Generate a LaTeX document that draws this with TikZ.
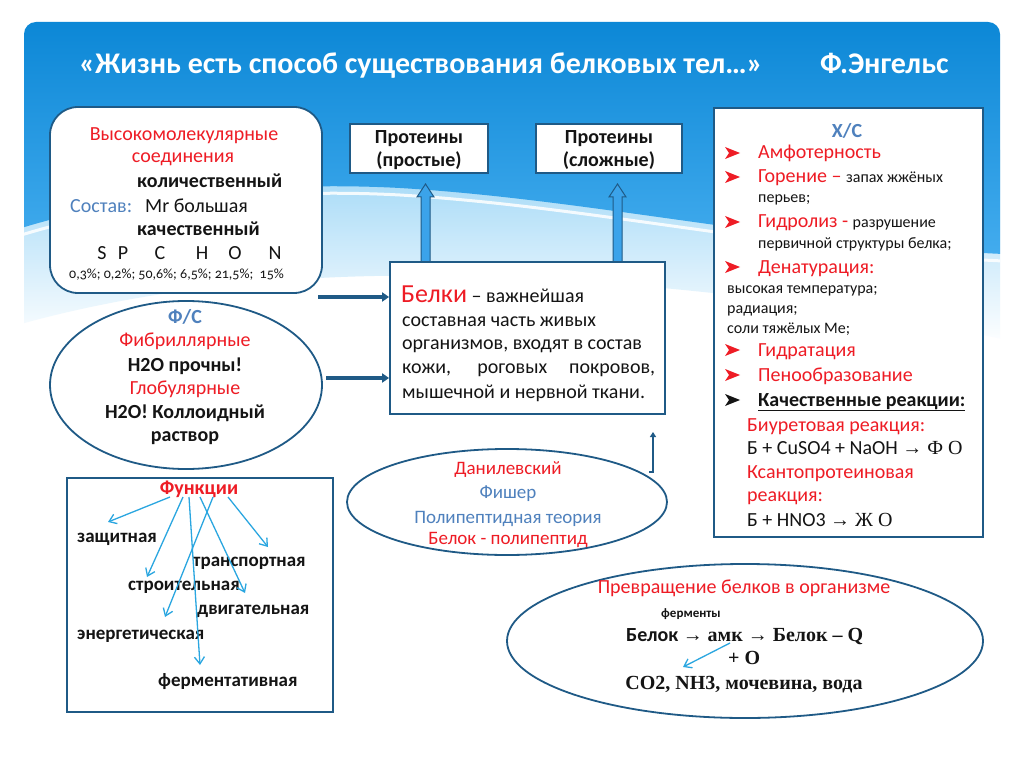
\documentclass[tikz,border=0pt]{standalone}
\usepackage{fontspec}
\setmainfont{Carlito}
\newfontfamily\oldnum{Carlito}[Numbers=OldStyle]
\newfontfamily\tms{Liberation Serif}
\usetikzlibrary{arrows.meta,shapes.geometric}
\definecolor{bord}{HTML}{1F5A86}
\definecolor{myred}{HTML}{EE1C25}
\definecolor{myblue}{HTML}{4F81BD}
\definecolor{lblue}{HTML}{2AA6E0}
\definecolor{txt}{HTML}{141414}
\definecolor{sky1}{HTML}{0784D4}
\definecolor{sky2}{HTML}{43ACEE}
\definecolor{skyl}{HTML}{9AD5F6}
\definecolor{harr}{HTML}{3BA3EA}
\newcommand\fsz[1]{\fontsize{#1}{#1}\selectfont}
\newcommand\bul[3]{\fill[#3] (#1,#2) ++(0,-6) -- ++(15,6) -- ++(-15,6) -- ++(4,-6) -- cycle;}
\begin{document}
\begin{tikzpicture}[x=1pt,y=-1pt,
  tx/.style={inner sep=0pt, anchor=base, text=txt, font=\fsz{20}},
  txl/.style={inner sep=0pt, anchor=base west, text=txt, font=\fsz{20}},
  boxst/.style={draw=bord, line width=1.8pt, fill=white},
  darr/.style={draw=bord, line width=3.2pt, -{Triangle[length=7pt,width=9pt]}},
  farr/.style={draw=lblue, line width=1.3pt, -{Straight Barb[length=7pt,width=10pt]}},
  harrow/.style={fill=harr, draw=bord, line width=1pt},
]
\useasboundingbox (0,0) rectangle (1024,767);
\fill[white] (0,0) rectangle (1024,767);
% ---- sky background ----
\begin{scope}
\clip[rounded corners=12] (24,22) rectangle (1000,800);
\shade[top color=skyl, bottom color=white] (0,150) -- (1030,150) -- (1030,345) .. controls (850,305) and (650,280) .. (450,276) .. controls (250,272) and (100,300) .. (0,330) -- cycle;
\shade[top color=sky1, bottom color=sky2] (0,0) -- (1030,0) -- (1030,255) .. controls (800,248) and (600,200) .. (400,188) .. controls (250,180) and (100,200) .. (0,235) -- cycle;
\draw[white, line width=3pt, opacity=.85] (0,242) .. controls (100,207) and (250,187) .. (400,195) .. controls (600,207) and (800,255) .. (1030,262);
\end{scope}
% ---- title ----
\node[tx, anchor=base west, text=white, font=\fsz{30}\bfseries] (title) at (79,74) {«Жизнь есть способ существования белковых тел…»};
\node[tx, anchor=base west, text=white, font=\fsz{30}\bfseries] (author) at (820,74) {Ф.Энгельс};
% ---- hollow arrows ----
\path[harrow] (421,300) -- (421,197) -- (417,197) -- (425.5,184) -- (434,197) -- (430,197) -- (430,300) -- cycle;
\path[harrow] (613,300) -- (613,197) -- (609,197) -- (617.5,184) -- (626,197) -- (622,197) -- (622,300) -- cycle;
% ---- proteins ----
\node[boxst, minimum width=138pt, minimum height=49pt] (p1) at (419,148.5) {};
\node[tx, font=\fsz{20}\bfseries] at (419,144) {Протеины};
\node[tx, font=\fsz{20}\bfseries] at (419,167) {(простые)};
\node[boxst, minimum width=146pt, minimum height=49pt] (p2) at (609,148.5) {};
\node[tx, font=\fsz{20}\bfseries] at (609,144) {Протеины};
\node[tx, font=\fsz{20}\bfseries] at (609,167) {(сложные)};
% ---- top-left box ----
\node[boxst, rounded corners=28pt, minimum width=272pt, minimum height=186pt] (hmc) at (186,200) {};
\node[tx, text=myred] at (184,141) {Высокомолекулярные};
\node[tx, text=myred] at (183,163) {соединения};
\node[txl, font=\fsz{20}\bfseries] at (137,188) {количественный};
\node[txl, text=myblue] at (70,213) {Состав:};
\node[txl] at (145,213) {Mr большая};
\node[txl, font=\fsz{20}\bfseries] at (137,236) {качественный};
\node[tx] at (102,259) {S};
\node[tx] at (123,259) {P};
\node[tx] at (160,259) {C};
\node[tx] at (202,259) {H};
\node[tx] at (235,259) {O};
\node[tx] at (275,259) {N};
\node[txl, font=\oldnum\fsz{14}] at (69,278) {0,3\%; 0,2\%; 50,6\%; 6,5\%; 21,5\%;\ \ 15\%};
% ---- F/C ellipse ----
\node[boxst, ellipse, minimum width=272pt, minimum height=168pt] (fc) at (186,385) {};
\node[tx, text=myblue, font=\fsz{20}\bfseries] at (185,323) {Ф/С};
\node[tx, text=myred] at (185,346) {Фибриллярные};
\node[tx, font=\fsz{20}\bfseries] at (185,371) {H2O прочны!};
\node[tx, text=myred] at (185,394) {Глобулярные};
\node[tx, font=\fsz{20}\bfseries] at (185,418) {H2O! Коллоидный};
\node[tx, font=\fsz{20}\bfseries] at (185,441) {раствор};
% ---- Belki box ----
\node[boxst, minimum width=275pt, minimum height=152pt] (belki) at (527.5,338) {};
\node[txl] at (401,302) {{\color{myred}\fsz{26}Белки} – важнейшая};
\node[txl] at (402,326) {составная часть живых};
\node[txl] at (402,349) {организмов, входят в состав};
\node[txl] at (402,373) {\makebox[253pt][s]{кожи, роговых покровов,}};
\node[txl] at (402,398) {мышечной и нервной ткани.};
\coordinate (a1) at (318,297);
\coordinate (a2) at (326,378);
\draw[darr] (a1) -- (a1 -| belki.west);
\draw[darr] (a2) -- (a2 -| belki.west);
% ---- functions ----
\node[boxst, minimum width=266pt, minimum height=234pt] (fn) at (200,595) {};
\node[tx, text=myred, font=\fsz{20}\bfseries] (fk) at (199,494) {Функции};
\node[txl, font=\fsz{19}\bfseries] (f1) at (77,542) {защитная};
\node[txl, font=\fsz{19}\bfseries] (f2) at (193,566) {транспортная};
\node[txl, font=\fsz{19}\bfseries] (f3) at (128,590) {строительная};
\node[txl, font=\fsz{19}\bfseries] (f4) at (197,614) {двигательная};
\node[txl, font=\fsz{19}\bfseries] (f5) at (77,639) {энергетическая};
\node[txl, font=\fsz{19}\bfseries] (f6) at (158,686) {ферментативная};
\coordinate (s1) at (170,497); \coordinate (e1) at (108,522);
\coordinate (s2) at (183,497); \coordinate (e2) at (147,577);
\coordinate (s3) at (189,497); \coordinate (e3) at (200,665);
\coordinate (s4) at (200,497); \coordinate (e4) at (245,593);
\coordinate (s5) at (213,497); \coordinate (e5) at (165,617);
\coordinate (s6) at (228,497); \coordinate (e6) at (268,547);
\foreach \i in {1,...,6} {\draw[farr] (s\i) -- (e\i);}
% ---- transformation ellipse ----
\node[boxst, ellipse, minimum width=476pt, minimum height=154pt] (tr) at (745,641) {};
\node[tx, text=myred] at (744,593) {Превращение белков в организме};
\node[txl, font=\fsz{13}\bfseries] at (661,617) {ферменты};
\node[txl] (eq) at (626,641) {\bfseries Белок {\tms → амк → Белок – Q}};
\node[txl, font=\tms\fsz{20}\bfseries] at (728,664) {+ O};
\node[tx, font=\tms\fsz{20}\bfseries] at (744,689) {CO2, NH3, мочевина, вода};
\coordinate (t1) at (730,643); \coordinate (t2) at (683,667);
\draw[farr] (t1) -- (t2);
% ---- Danilevsky ellipse ----
\node[draw=bord, line width=1.8pt, ellipse, minimum width=320pt, minimum height=106pt] (dan) at (507,502) {};
\node[tx, text=myred, font=\fsz{19}] at (508,474) {Данилевский};
\node[tx, text=myblue, font=\fsz{19}] at (508,498) {Фишер};
\node[tx, text=myblue, font=\fsz{19}] at (508,523) {Полипептидная теория};
\node[tx, text=myred, font=\fsz{19}] at (508,544) {Белок - полипептид};
\coordinate (hk) at (649,472);
\draw[bord, line width=2.5pt, -{Triangle[length=5pt,width=6pt]}] (hk) -- ++(4,0) -- ++(0,-40);
% ---- X/C box ----
\node[boxst, minimum width=269pt, minimum height=429pt] (xc) at (848.5,322.5) {};
\node[tx, text=myblue, font=\fsz{20}\bfseries] at (847,138) {Х/С};
\bul{725}{153}{myred}
\node[txl, text=myred] at (758,159) {Амфотерность};
\bul{725}{177}{myred}
\node[txl] at (758,183) {{\color{myred}Горение –} {\fsz{16}запах жжёных}};
\node[txl, font=\fsz{16}] at (758,203) {перьев;};
\bul{725}{222}{myred}
\node[txl] at (758,228) {{\color{myred}Гидролиз -} {\fsz{16}разрушение}};
\node[txl, font=\fsz{16}] at (758,248) {первичной структуры белка;};
\bul{725}{267}{myred}
\node[txl, text=myred] at (758,273) {Денатурация:};
\node[txl, font=\fsz{16}] at (727,293) {высокая температура;};
\node[txl, font=\fsz{16}] at (727,313) {радиация;};
\node[txl, font=\fsz{16}] at (727,333) {соли тяжёлых Me;};
\bul{725}{350}{myred}
\node[txl, text=myred] at (758,356) {Гидратация};
\bul{725}{375}{myred}
\node[txl, text=myred] at (758,381) {Пенообразование};
\bul{725}{400}{txt}
\node[txl, font=\fsz{20}\bfseries] at (758,406) {\underline{Качественные реакции:}};
\node[txl, text=myred] at (747,431) {Биуретовая реакция:};
\node[txl] at (747,454) {Б + CuSO4 + NaOH {\tms → Ф О}};
\node[txl, text=myred] at (747,478) {Ксантопротеиновая};
\node[txl, text=myred] at (747,501) {реакция:};
\node[txl] at (747,526) {Б + HNO3 {\tms → Ж О}};
\end{tikzpicture}
\end{document}
